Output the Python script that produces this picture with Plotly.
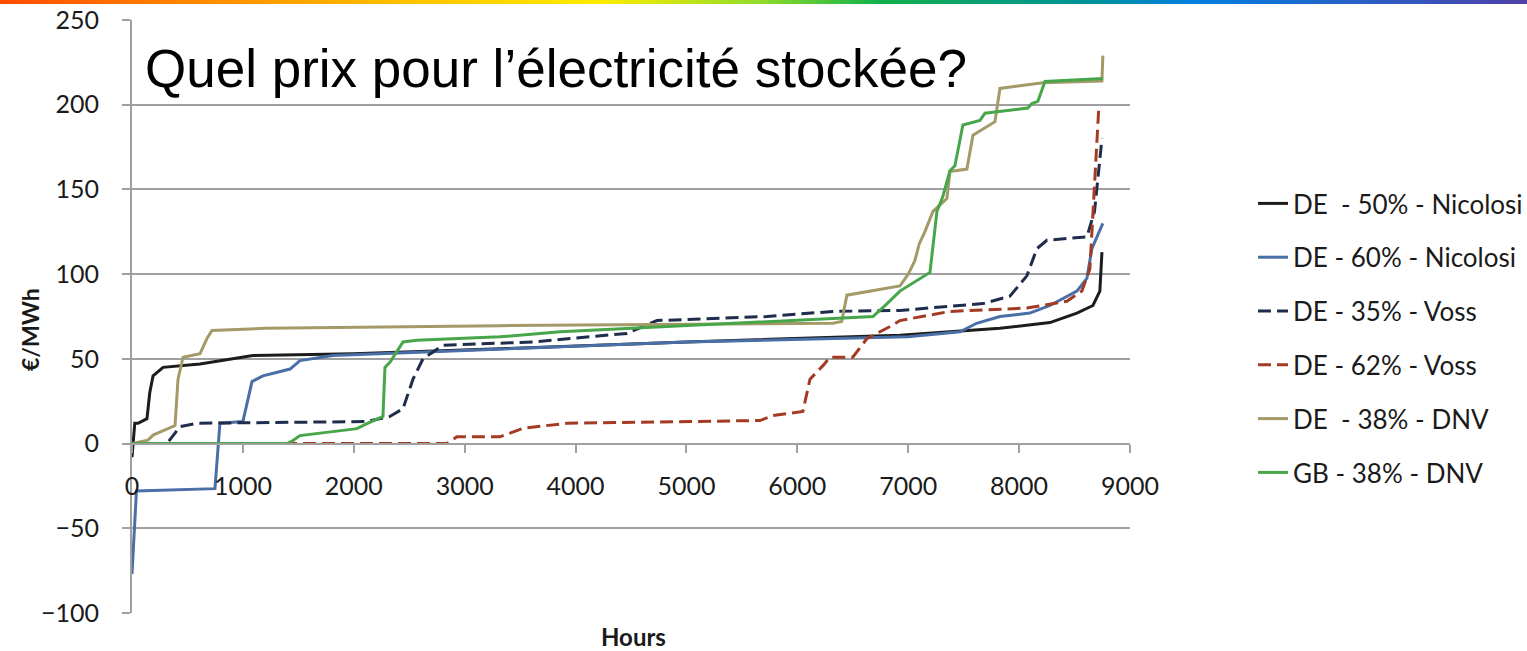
import plotly.graph_objects as go

# Sorted hourly electricity prices (price duration curves), €/MWh
series_names = [
    "DE \u00a0- 50% - Nicolosi",
    "DE - 60% - Nicolosi",
    "DE - 35% - Voss",
    "DE - 62% - Voss",
    "DE \u00a0- 38% - DNV",
    "GB - 38% - DNV",
]

de50_nicolosi_h = [0, 25, 54, 135, 160, 190, 280, 613, 1090, 2000, 3318, 5000, 6925, 7827, 8278, 8521, 8666, 8728, 8747]
de50_nicolosi_p = [-8, 12, 12, 14.7, 30, 40, 45, 47, 52, 53, 56, 60, 64, 68, 71.4, 77, 81.5, 90, 113]

de60_nicolosi_h = [0, 40, 748, 793, 1000, 1082, 1181, 1425, 1515, 1813, 3000, 5000, 7000, 7466, 7617, 7827, 8097, 8278, 8521, 8611, 8656, 8755]
de60_nicolosi_p = [-77, -28, -26.6, 12, 13, 36.6, 40, 44, 49, 52, 55, 60, 63, 66, 71, 75, 77, 81.5, 90, 97.5, 115, 130]

de35_voss_h = [0, 315, 433, 586, 2119, 2326, 2444, 2534, 2624, 2804, 3616, 4463, 4734, 5726, 6321, 6925, 7675, 7917, 8070, 8160, 8250, 8430, 8611, 8680, 8710, 8747]
de35_voss_p = [0, 0, 10, 12, 13, 16, 20.6, 38, 50, 58, 60, 65, 72.6, 75, 78, 78.6, 82.6, 87, 99, 115, 120, 121, 122, 137, 156, 180]

de62_voss_h = [0, 2840, 2930, 3318, 3526, 3922, 5663, 5780, 6050, 6114, 6231, 6294, 6500, 6628, 6862, 6925, 7376, 8070, 8430, 8566, 8638, 8680, 8720]
de62_voss_p = [0, 0, 4, 4, 9, 12, 13.6, 16.5, 19, 38, 46, 51, 51, 62, 70, 72.6, 78, 80, 84, 90, 103, 150, 200]

de38_dnv_h = [0, 144, 190, 360, 388, 415, 460, 613, 676, 721, 1200, 3318, 6321, 6400, 6447, 6925, 7000, 7060, 7100, 7150, 7223, 7349, 7376, 7529, 7584, 7782, 7827, 8215, 8747, 8755]
de38_dnv_p = [0, 2, 5, 10, 10.6, 38, 51, 53, 62, 66.7, 68, 69.6, 71, 72, 87.6, 93, 100, 108, 118, 125, 137, 144.6, 160.5, 162, 182, 190, 209.6, 213, 214, 229]

gb38_dnv_h = [0, 1400, 1452, 1515, 2029, 2119, 2263, 2281, 2326, 2444, 2570, 3318, 3860, 6682, 6800, 6925, 7196, 7223, 7259, 7313, 7376, 7421, 7493, 7647, 7692, 8079, 8115, 8169, 8233, 8755]
gb38_dnv_p = [0, 0, 1.8, 4.7, 8.8, 11.8, 16, 45, 48, 60, 61, 63, 66, 75, 82, 90, 101, 117, 137, 146, 161, 164, 188, 190.7, 195, 198, 200.7, 202, 213.7, 215.5]

y_ticks = [-100, -50, 0, 50, 100, 150, 200, 250]
x_ticks = [0, 1000, 2000, 3000, 4000, 5000, 6000, 7000, 8000, 9000]

hours = [de50_nicolosi_h, de60_nicolosi_h, de35_voss_h, de62_voss_h, de38_dnv_h, gb38_dnv_h]
prices = [de50_nicolosi_p, de60_nicolosi_p, de35_voss_p, de62_voss_p, de38_dnv_p, gb38_dnv_p]
colors = ["#1c1c1c", "#4a6ea6", "#1f2d4d", "#a33a24", "#a39a68", "#47a64a"]
dashes = ["solid", "solid", "13px,6px", "13px,6px", "solid", "solid"]

fig = go.Figure()
for i, name in enumerate(series_names):
    fig.add_trace(go.Scatter(
        x=hours[i], y=prices[i], mode="lines", name=name,
        legendgroup=f"g{i}",
        line=dict(color=colors[i], width=3, dash=dashes[i]),
    ))

tick_font = dict(family="Lato, Carlito, sans-serif", size=25, color="#1a1a1a")
grid_col = "#a0a0a0"

# plot area geometry (pixels)
L, R, T, B = 132, 397, 20, 38
W, H = 1527, 651
pw, ph = W - L - R, H - T - B

# Rainbow band across the top edge of the page
stops = [(0, (255, 74, 0)), (200, (255, 138, 0)), (400, (255, 192, 0)), (600, (255, 236, 0)),
         (760, (143, 220, 42)), (880, (16, 176, 74)), (1100, (0, 144, 160)),
         (1190, (0, 128, 224)), (1527, (80, 64, 168))]


def band_color(px):
    for (x0, c0), (x1, c1) in zip(stops[:-1], stops[1:]):
        if x0 <= px <= x1:
            f = (px - x0) / (x1 - x0)
            return "rgb(%d,%d,%d)" % tuple(round(a + (b - a) * f) for a, b in zip(c0, c1))
    return "rgb(%d,%d,%d)" % stops[-1][1]


shapes = []
step = 6
for px in range(0, W, step):
    shapes.append(dict(
        type="rect", xref="paper", yref="paper",
        x0=(px - L) / pw, x1=(px + step + 1 - L) / pw,
        y0=(H - B - 4) / ph, y1=(H - B + 1) / ph,
        fillcolor=band_color(px + step / 2), line=dict(width=0), layer="above",
    ))

fig.update_layout(
    width=W, height=H,
    margin=dict(l=L, r=R, t=T, b=B, pad=0, autoexpand=False),
    paper_bgcolor="white", plot_bgcolor="white",
    showlegend=True,
    legend=dict(
        x=(1253 - L) / pw, y=(H - B - 180) / ph, xanchor="left", yanchor="top",
        font=dict(family="Lato, Carlito, sans-serif", size=26, color="#1a1a1a"),
        tracegroupgap=17, bgcolor="rgba(0,0,0,0)",
    ),
    xaxis=dict(
        range=[0, 9000], tickvals=x_ticks, showgrid=False, zeroline=False,
        anchor="free", position=100 / 350, automargin=False,
        showline=True, linecolor=grid_col, linewidth=2,
        ticks="outside", ticklen=8, tickwidth=2, tickcolor=grid_col,
        tickfont=tick_font, ticklabelstandoff=12,
    ),
    yaxis=dict(
        range=[-100, 250], tickvals=y_ticks, showgrid=True, gridcolor=grid_col, gridwidth=2,
        zeroline=False, showline=True, linecolor=grid_col, linewidth=2, automargin=False,
        ticks="outside", ticklen=8, tickwidth=2, tickcolor=grid_col,
        tickfont=tick_font, ticklabelstandoff=18,
    ),
    shapes=shapes,
    annotations=[
        dict(text="Quel prix pour l\u2019électricité stockée?", xref="paper", yref="paper",
             x=(143 - L) / pw, y=(H - B - 68) / ph, xanchor="left", yanchor="middle",
             showarrow=False, font=dict(family="Liberation Sans, Arial, sans-serif", size=53, color="black")),
        dict(text="<b>Hours</b>", xref="paper", yref="paper",
             x=(633 - L) / pw, y=(H - B - 636) / ph, xanchor="center", yanchor="middle",
             showarrow=False, font=dict(family="Lato, Carlito, sans-serif", size=24, color="#1a1a1a")),
        dict(text="<b>€/MWh</b>", xref="paper", yref="paper", textangle=-90,
             x=(30 - L) / pw, y=(H - B - 330) / ph, xanchor="center", yanchor="middle",
             showarrow=False, font=dict(family="Lato, Carlito, sans-serif", size=23, color="#1a1a1a")),
    ],
)

fig.write_html("out.html")
